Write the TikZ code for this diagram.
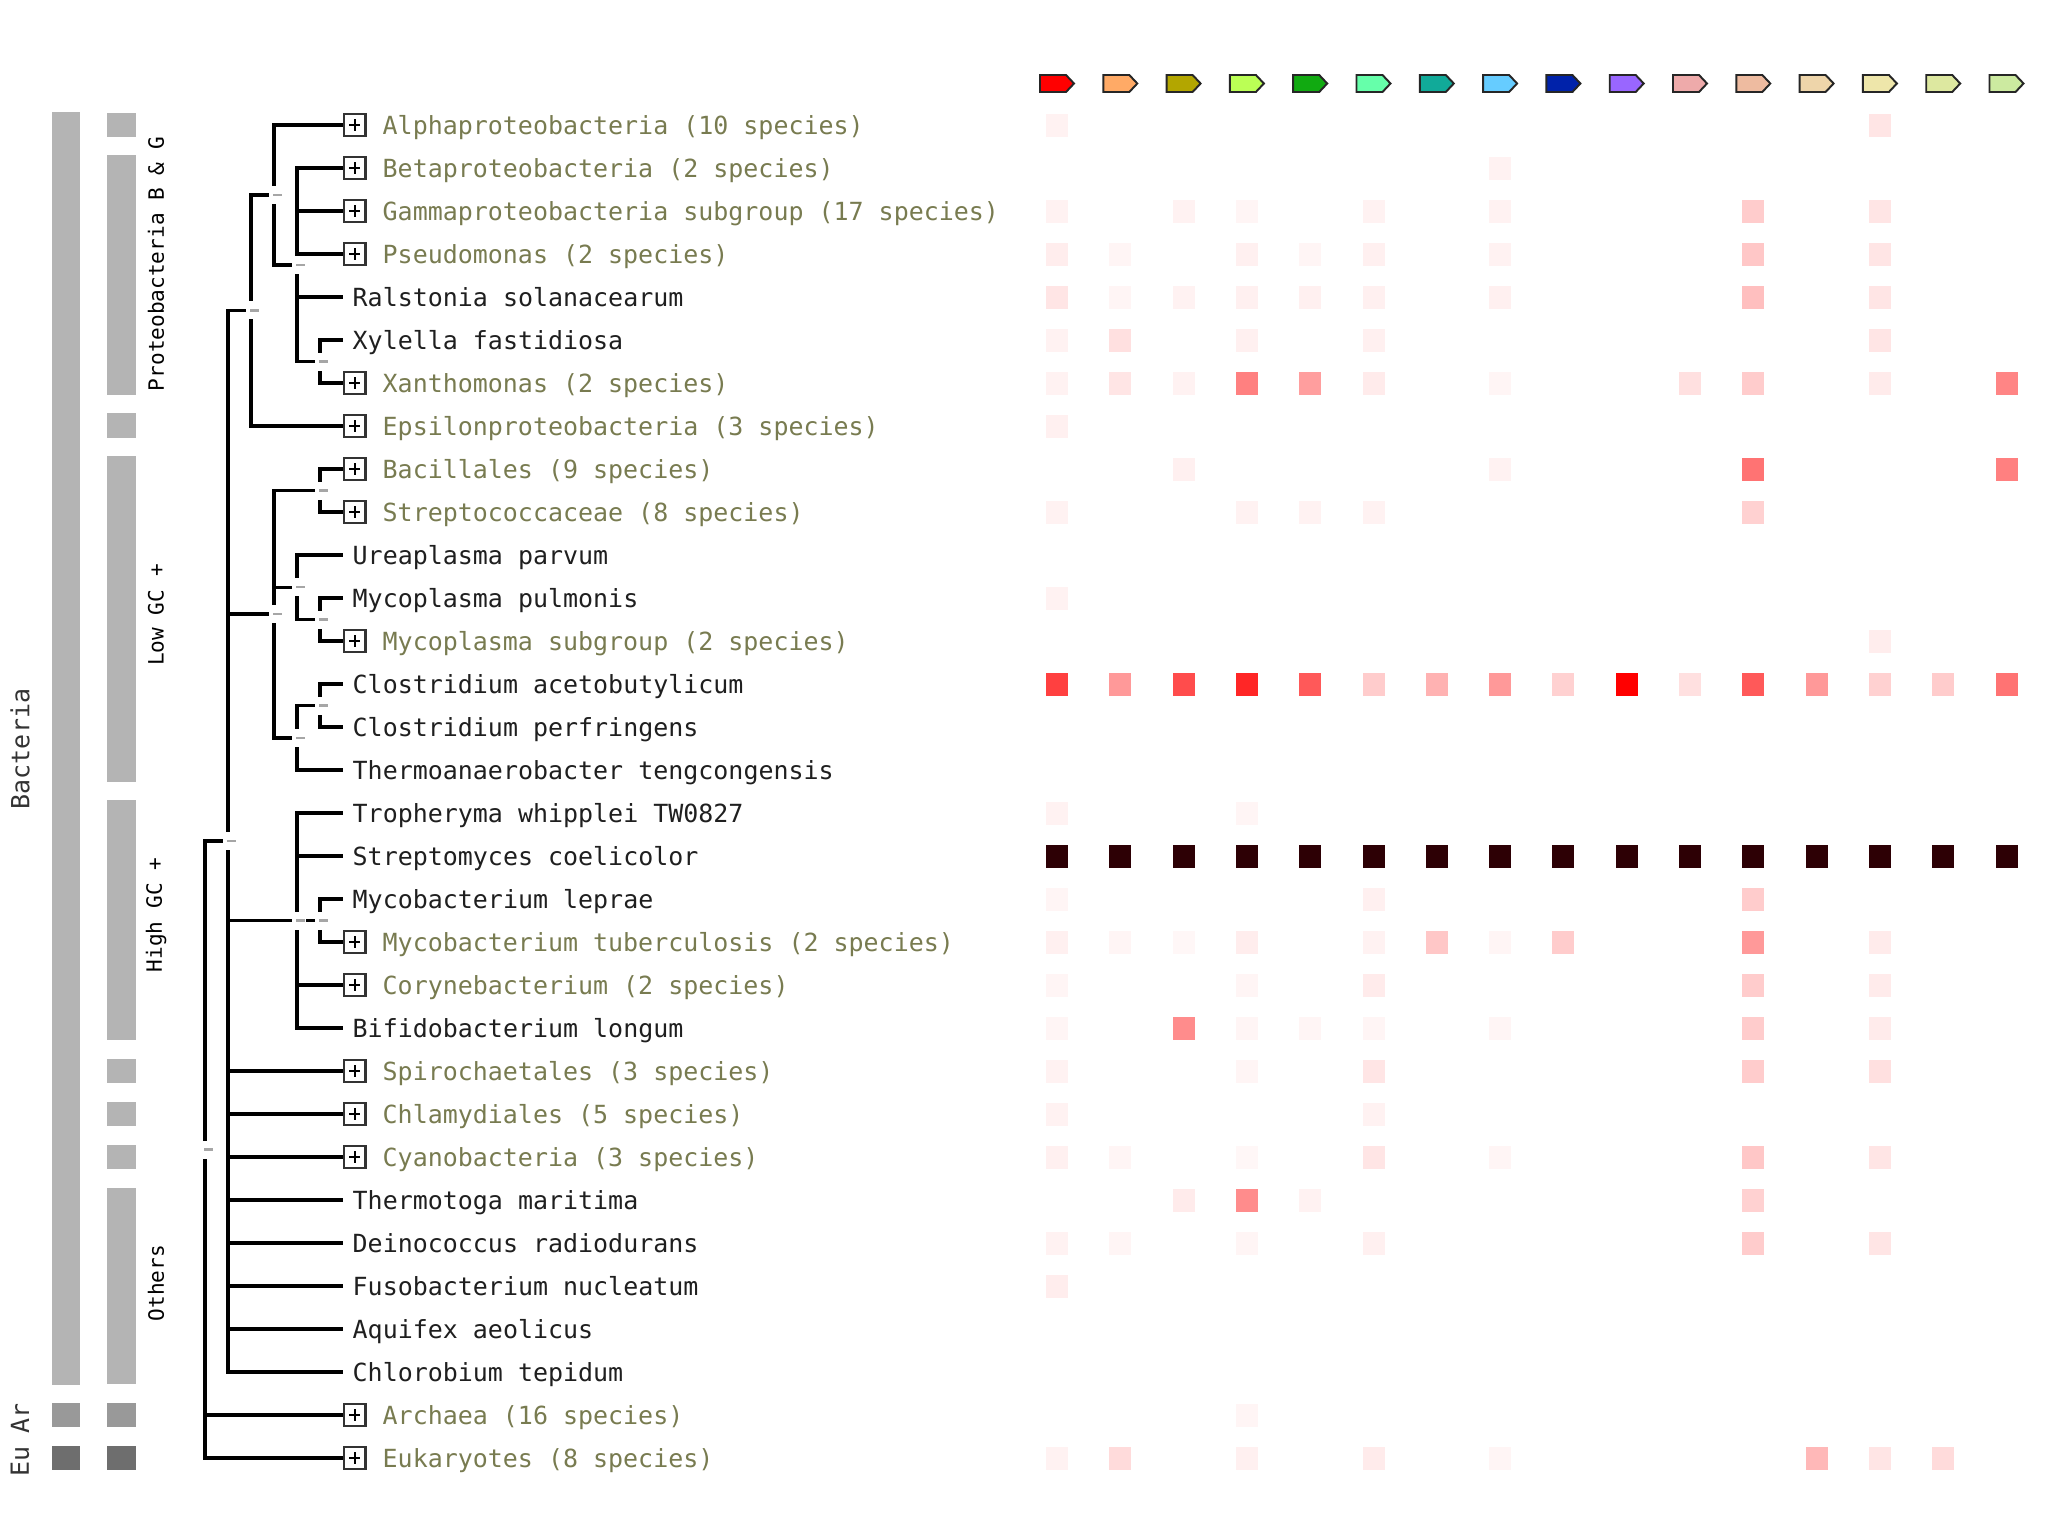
\documentclass[tikz,border=0pt]{standalone}
\usepackage{fontspec}
\newfontfamily\monofont{DejaVu Sans Mono}
\definecolor{olivetxt}{HTML}{787B50}
\definecolor{bargray}{HTML}{B4B4B4}
\definecolor{argray}{HTML}{999999}
\definecolor{eugray}{HTML}{6E6E6E}
\definecolor{darkcell}{HTML}{2D0005}
\definecolor{ic0}{HTML}{FF0000}
\definecolor{ic1}{HTML}{FFAA66}
\definecolor{ic2}{HTML}{B3A600}
\definecolor{ic3}{HTML}{BBFF55}
\definecolor{ic4}{HTML}{11AA11}
\definecolor{ic5}{HTML}{66FFAA}
\definecolor{ic6}{HTML}{11AA99}
\definecolor{ic7}{HTML}{66CCFF}
\definecolor{ic8}{HTML}{0022AA}
\definecolor{ic9}{HTML}{9966FF}
\definecolor{ic10}{HTML}{EEAAAA}
\definecolor{ic11}{HTML}{EEBBA0}
\definecolor{ic12}{HTML}{EED5AA}
\definecolor{ic13}{HTML}{EEE6AA}
\definecolor{ic14}{HTML}{DDE8A0}
\definecolor{ic15}{HTML}{CCEAA0}
\tikzset{
  treeline/.style={line width=1pt, black},
  leaflab/.style={anchor=west, inner xsep=2.56pt, inner ysep=0pt,
    font=\monofont\fontsize{7.1pt}{8pt}\selectfont, text=black!88,
    text height=5.2pt, text depth=0pt},
  grouplab/.style={anchor=west, inner sep=0pt,
    font=\monofont\fontsize{7.1pt}{8pt}\selectfont, text=olivetxt,
    text height=5.2pt, text depth=0pt},
  leafbox/.style={draw=black!80, line width=0.6pt, fill=white, minimum size=6.1pt,
    inner sep=0pt, anchor=west,
    path picture={\draw[line width=0.6pt, black]
      ([xshift=-1.6pt]path picture bounding box.center) -- ([xshift=1.6pt]path picture bounding box.center)
      ([yshift=-1.6pt]path picture bounding box.center) -- ([yshift=1.6pt]path picture bounding box.center);}},
  sidelab/.style={rotate=90, inner sep=0pt, text=black,
    font=\monofont\fontsize{6pt}{7pt}\selectfont},
  bigside/.style={rotate=90, inner sep=0pt, text=black!80,
    font=\monofont\fontsize{7.1pt}{8pt}\selectfont},
  gapmark/.style={line width=0.7pt, black!35}
}
\begin{document}
\begin{tikzpicture}[x=0.01cm, y=-0.01cm]
\useasboundingbox (0,0) rectangle (2048,1536);

% ---- side bars ----
\fill[bargray] (52,112) rectangle (80,1385);
\fill[argray] (52,1403) rectangle (80,1427);
\fill[eugray] (52,1446) rectangle (80,1470);
\fill[bargray] (107,113) rectangle (136,137);
\fill[bargray] (107,155) rectangle (136,395);
\fill[bargray] (107,413) rectangle (136,438);
\fill[bargray] (107,456) rectangle (136,782);
\fill[bargray] (107,800) rectangle (136,1040);
\fill[bargray] (107,1059) rectangle (136,1083);
\fill[bargray] (107,1102) rectangle (136,1126);
\fill[bargray] (107,1145) rectangle (136,1169);
\fill[bargray] (107,1188) rectangle (136,1384);
\fill[argray] (107,1403) rectangle (136,1427);
\fill[eugray] (107,1446) rectangle (136,1470);

\node[bigside] (lbBact) at (20,749) {Bacteria};
\node[bigside] (lbAr) at (20,1418) {Ar};
\node[bigside] (lbEu) at (20,1461) {Eu};
\node[sidelab] (lbProt) at (156,264) {Proteobacteria B \& G};
\node[sidelab] (lbLow) at (156,615) {Low GC +};
\node[sidelab] (lbHigh) at (156,915) {High GC +};
\node[sidelab] (lbOth) at (156,1283) {Others};

% ---- leaves ----
\node[leafbox] (b0) at (343,125) {};  \node[grouplab] (t0) at (382,125) {Alphaproteobacteria (10 species)};
\node[leafbox] (b1) at (343,168) {};  \node[grouplab] (t1) at (382,168) {Betaproteobacteria (2 species)};
\node[leafbox] (b2) at (343,211) {};  \node[grouplab] (t2) at (382,211) {Gammaproteobacteria subgroup (17 species)};
\node[leafbox] (b3) at (343,254) {};  \node[grouplab] (t3) at (382,254) {Pseudomonas (2 species)};
\node[leaflab] (t4) at (343,297) {Ralstonia solanacearum};
\node[leaflab] (t5) at (343,340) {Xylella fastidiosa};
\node[leafbox] (b6) at (343,383) {};  \node[grouplab] (t6) at (382,383) {Xanthomonas (2 species)};
\node[leafbox] (b7) at (343,426) {};  \node[grouplab] (t7) at (382,426) {Epsilonproteobacteria (3 species)};
\node[leafbox] (b8) at (343,469) {};  \node[grouplab] (t8) at (382,469) {Bacillales (9 species)};
\node[leafbox] (b9) at (343,512) {};  \node[grouplab] (t9) at (382,512) {Streptococcaceae (8 species)};
\node[leaflab] (t10) at (343,555) {Ureaplasma parvum};
\node[leaflab] (t11) at (343,598) {Mycoplasma pulmonis};
\node[leafbox] (b12) at (343,641) {}; \node[grouplab] (t12) at (382,641) {Mycoplasma subgroup (2 species)};
\node[leaflab] (t13) at (343,684) {Clostridium acetobutylicum};
\node[leaflab] (t14) at (343,727) {Clostridium perfringens};
\node[leaflab] (t15) at (343,770) {Thermoanaerobacter tengcongensis};
\node[leaflab] (t16) at (343,813) {Tropheryma whipplei TW0827};
\node[leaflab] (t17) at (343,856) {Streptomyces coelicolor};
\node[leaflab] (t18) at (343,899) {Mycobacterium leprae};
\node[leafbox] (b19) at (343,942) {}; \node[grouplab] (t19) at (382,942) {Mycobacterium tuberculosis (2 species)};
\node[leafbox] (b20) at (343,985) {}; \node[grouplab] (t20) at (382,985) {Corynebacterium (2 species)};
\node[leaflab] (t21) at (343,1028) {Bifidobacterium longum};
\node[leafbox] (b22) at (343,1071) {}; \node[grouplab] (t22) at (382,1071) {Spirochaetales (3 species)};
\node[leafbox] (b23) at (343,1114) {}; \node[grouplab] (t23) at (382,1114) {Chlamydiales (5 species)};
\node[leafbox] (b24) at (343,1157) {}; \node[grouplab] (t24) at (382,1157) {Cyanobacteria (3 species)};
\node[leaflab] (t25) at (343,1200) {Thermotoga maritima};
\node[leaflab] (t26) at (343,1243) {Deinococcus radiodurans};
\node[leaflab] (t27) at (343,1286) {Fusobacterium nucleatum};
\node[leaflab] (t28) at (343,1329) {Aquifex aeolicus};
\node[leaflab] (t29) at (343,1372) {Chlorobium tepidum};
\node[leafbox] (b30) at (343,1415) {}; \node[grouplab] (t30) at (382,1415) {Archaea (16 species)};
\node[leafbox] (b31) at (343,1458) {}; \node[grouplab] (t31) at (382,1458) {Eukaryotes (8 species)};

% ---- internal nodes ----
\coordinate (nXX) at (320,361.5);
\coordinate (nPbg) at (297,264.75);
\coordinate (nPabg) at (274,194.9);
\coordinate (nPall) at (251,310.4);
\coordinate (nBS) at (320,490.5);
\coordinate (nMy) at (320,619.5);
\coordinate (nUM) at (297,587.25);
\coordinate (nCl) at (320,705.5);
\coordinate (nCT) at (297,737.75);
\coordinate (nLow) at (274,614.1);
\coordinate (nLT) at (320,920.5);
\coordinate (nHigh) at (297,920.5);
\coordinate (nBact) at (228,841.2);
\coordinate (nRoot) at (205,1149.6);

% ---- connectors ----
\draw[treeline] (nXX) |- (t5.west) (nXX) |- (b6.west);
\draw[treeline] (nPbg) |- (b1.west) (nPbg) |- (b2.west) (nPbg) |- (b3.west) (nPbg) |- (t4.west) (nPbg) |- (nXX);
\draw[treeline] (nPabg) |- (b0.west) (nPabg) |- (nPbg);
\draw[treeline] (nPall) |- (nPabg) (nPall) |- (b7.west);
\draw[treeline] (nBS) |- (b8.west) (nBS) |- (b9.west);
\draw[treeline] (nMy) |- (t11.west) (nMy) |- (b12.west);
\draw[treeline] (nUM) |- (t10.west) (nUM) |- (nMy);
\draw[treeline] (nCl) |- (t13.west) (nCl) |- (t14.west);
\draw[treeline] (nCT) |- (nCl) (nCT) |- (t15.west);
\draw[treeline] (nLow) |- (nBS) (nLow) |- (nUM) (nLow) |- (nCT);
\draw[treeline] (nLT) |- (t18.west) (nLT) |- (b19.west);
\draw[treeline] (nHigh) |- (t16.west) (nHigh) |- (t17.west) (nHigh) |- (nLT) (nHigh) |- (b20.west) (nHigh) |- (t21.west);
\draw[treeline] (nBact) |- (nPall) (nBact) |- (nLow) (nBact) |- (nHigh)
  (nBact) |- (b22.west) (nBact) |- (b23.west) (nBact) |- (b24.west)
  (nBact) |- (t25.west) (nBact) |- (t26.west) (nBact) |- (t27.west)
  (nBact) |- (t28.west) (nBact) |- (t29.west);
\draw[treeline] (nRoot) |- (nBact) (nRoot) |- (b30.west) (nRoot) |- (b31.west);

% ---- node markers ----
\foreach \n in {nXX,nPbg,nPabg,nPall,nBS,nMy,nUM,nCl,nCT,nLow,nLT,nHigh,nBact,nRoot}{
  \fill[white] (\n) ++(-5,-9) rectangle ++(14,18);
  \draw[gapmark] (\n) ++(-1,0) -- ++(9,0);
}

% ---- column header icons ----
\foreach \j in {0,...,15}{
  \filldraw[fill=ic\j, draw=black!85, line width=0.55pt]
    ({1040+63.3*\j},75) -- ++(26,0) -- ++(8,8.5) -- ++(-8,8.5) -- ++(-26,0) -- cycle;
}

% ---- heat map ----
\foreach \r/\c/\v in {
  0/0/5, 0/13/10,
  1/7/5,
  2/0/5, 2/2/5, 2/3/4, 2/5/5, 2/7/5, 2/11/20, 2/13/10,
  3/0/7, 3/1/4, 3/3/6, 3/4/4, 3/5/6, 3/7/5, 3/11/22, 3/13/10,
  4/0/10, 4/1/4, 4/2/5, 4/3/6, 4/4/6, 4/5/6, 4/7/6, 4/11/25, 4/13/10,
  5/0/5, 5/1/12, 5/3/6, 5/5/6, 5/13/10,
  6/0/5, 6/1/10, 6/2/5, 6/3/50, 6/4/38, 6/5/8, 6/7/4, 6/10/12, 6/11/20, 6/13/8, 6/15/48,
  7/0/6,
  8/2/6, 8/7/5, 8/11/55, 8/15/50,
  9/0/5, 9/3/5, 9/4/5, 9/5/5, 9/11/18,
  11/0/5,
  12/13/7,
  13/0/75, 13/1/40, 13/2/70, 13/3/85, 13/4/65, 13/5/20, 13/6/30, 13/7/40,
  13/8/18, 13/9/100, 13/10/12, 13/11/65, 13/12/40, 13/13/18, 13/14/20, 13/15/55,
  16/0/5, 16/3/4,
  18/0/4, 18/5/6, 18/11/20,
  19/0/6, 19/1/4, 19/2/3, 19/3/7, 19/5/5, 19/6/22, 19/7/4, 19/8/20, 19/11/40, 19/13/8,
  20/0/4, 20/3/4, 20/5/8, 20/11/20, 20/13/8,
  21/0/4, 21/2/45, 21/3/4, 21/4/4, 21/5/4, 21/7/4, 21/11/20, 21/13/8,
  22/0/5, 22/3/4, 22/5/10, 22/11/20, 22/13/12,
  23/0/5, 23/5/5,
  24/0/6, 24/1/4, 24/3/3, 24/5/10, 24/7/4, 24/11/22, 24/13/10,
  25/2/8, 25/3/45, 25/4/5, 25/11/18,
  26/0/5, 26/1/4, 26/3/4, 26/5/6, 26/11/20, 26/13/10,
  27/0/7,
  30/3/4,
  31/0/5, 31/1/14, 31/3/6, 31/5/8, 31/7/4, 31/12/28, 31/13/10, 31/14/14}{
  \fill[red!\v!white] ({1057+63.3*\c-11},{125+43*\r-11.5}) rectangle ++(22,23);
}
\foreach \c in {0,...,15}{
  \fill[darkcell] ({1057+63.3*\c-11},{125+43*17-11.5}) rectangle ++(22,23);
}
\end{tikzpicture}
\end{document}
